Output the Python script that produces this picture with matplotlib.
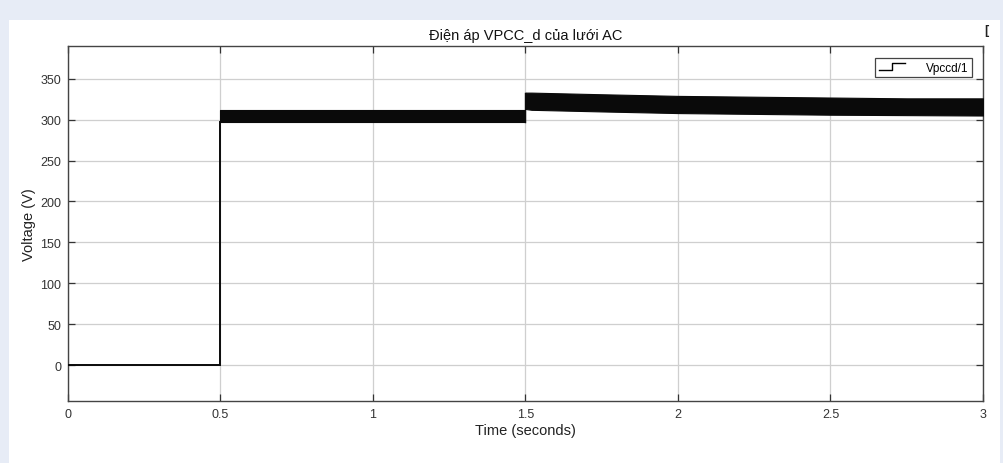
import matplotlib
matplotlib.use("Agg")
import matplotlib.pyplot as plt
from matplotlib.patches import Rectangle
from matplotlib.lines import Line2D
from matplotlib.legend_handler import HandlerBase

plt.rcParams['font.family'] = ['Liberation Sans', 'DejaVu Sans']

# Pre-connection level (V) before the grid switch at 0.5 s
t_off = [0.0, 0.5]
v_off = [0.0, 0.0]

# Ripple envelope of the d-axis voltage, 0.5 s to 1.5 s
t_seg1 = [0.5, 0.75, 1.0, 1.25, 1.5]
upper_seg1 = [312, 312, 312, 312, 312]
lower_seg1 = [297, 297, 297, 297, 297]

# Ripple envelope after the load step at 1.5 s
t_seg2 = [1.5, 1.52, 1.75, 2.0, 2.25, 2.5, 2.75, 3.0]
upper_seg2 = [333, 333, 331, 329, 328, 327, 326, 326]
lower_seg2 = [313, 312, 310, 308, 307, 306, 305.5, 305]

x_ticks = [0, 0.5, 1, 1.5, 2, 2.5, 3]
x_tick_labels = ["0", "0.5", "1", "1.5", "2", "2.5", "3"]
y_ticks = [0, 50, 100, 150, 200, 250, 300, 350]

W, H = 1004, 464
fig = plt.figure(figsize=(W / 100, H / 100), dpi=100)
fig.patch.set_facecolor("#e7ecf6")
panel = Rectangle((9 / W, 0), 991 / W, (H - 21) / H,
                  transform=fig.transFigure, facecolor="white",
                  edgecolor="none", zorder=-10)
fig.patches.append(panel)

ax = fig.add_axes([68 / W, (H - 402) / H, 915 / W, (402 - 47) / H])
ax.set_zorder(1)
ax.set_facecolor("white")

line_color = "#0a0a0a"
ax.plot(t_off + [t_seg1[0]], v_off + [lower_seg1[0]], color=line_color,
        lw=1.4, solid_joinstyle="miter", zorder=3)
ax.fill_between(t_seg1, lower_seg1, upper_seg1, color=line_color,
                lw=0.8, edgecolor=line_color, zorder=3)
ax.fill_between(t_seg2, lower_seg2, upper_seg2, color=line_color,
                lw=0.8, edgecolor=line_color, zorder=3)
ax.plot([t_seg1[-1], t_seg2[0]], [lower_seg1[-1], upper_seg2[0]],
        color=line_color, lw=1.0, zorder=3)

ax.set_xlim(0, 3)
ax.set_ylim(-44, 390)
ax.set_xticks(x_ticks)
ax.set_xticklabels(x_tick_labels)
ax.set_yticks(y_ticks)
ax.grid(True, color="#cfcfcf", lw=0.9)
ax.set_axisbelow(True)
ax.tick_params(direction="in", length=5, width=0.9, color="#333333",
               labelsize=9, labelcolor="#333333",
               top=True, right=True, pad=5)
for s in ax.spines.values():
    s.set_color("#444444")
    s.set_linewidth(1.0)

ax.set_title("Điện áp VPCC_d của lưới AC", fontsize=10.5, color="#111111", pad=5)
ax.set_xlabel("Time (seconds)", fontsize=10.5, color="#222222", labelpad=2)
ax.set_ylabel("Voltage (V)", fontsize=10.5, color="#222222", labelpad=3)


class StepHandler(HandlerBase):
    def create_artists(self, legend, orig_handle, xdescent, ydescent,
                       width, height, fontsize, trans):
        x0 = -xdescent
        y0 = -ydescent
        xs = [x0, x0 + width * 0.5, x0 + width * 0.5, x0 + width]
        ys = [y0 + height * 0.1, y0 + height * 0.1, y0 + height * 0.85,
              y0 + height * 0.85]
        return [Line2D(xs, ys, color="black", lw=1.0, transform=trans)]


handle = Line2D([], [], color="black")
leg = ax.legend([handle], ["Vpccd/1"], handler_map={Line2D: StepHandler()},
                loc="upper right", bbox_to_anchor=((972 - 68) / 915, (402 - 59) / 355),
                fontsize=8.5, frameon=True, fancybox=False, framealpha=1,
                edgecolor="#444444", borderpad=0.3, handlelength=2.2,
                handleheight=0.8, handletextpad=1.8, borderaxespad=0.0)
leg.get_frame().set_linewidth(0.9)

fig.text(984 / W, 1 - 31 / H, "[", fontsize=9, color="#222222",
         ha="left", va="center", fontweight="bold")

fig.savefig("out.png", dpi=100, facecolor=fig.get_facecolor())
